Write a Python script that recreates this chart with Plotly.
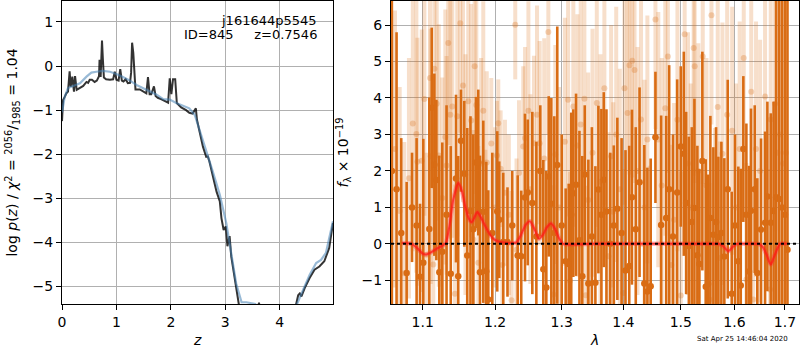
import plotly.graph_objects as go

# ---------------- left panel: log p(z) ----------------
z_black = [0.0, 0.01, 0.02, 0.05, 0.08, 0.11, 0.14, 0.16, 0.19, 0.22, 0.24, 0.27, 0.33, 0.39, 0.45,
           0.48, 0.51, 0.55, 0.60, 0.64, 0.68, 0.69, 0.71, 0.735, 0.75, 0.77, 0.81, 0.88, 0.94, 0.97,
           1.00, 1.04, 1.07, 1.10, 1.13, 1.17, 1.21, 1.25, 1.27, 1.288, 1.31, 1.33, 1.35, 1.43, 1.49,
           1.55, 1.58, 1.61, 1.64, 1.69, 1.72, 1.76, 1.82, 1.89, 1.95, 1.98, 2.01, 2.04, 2.08, 2.11,
           2.19, 2.28, 2.34, 2.40, 2.46, 2.48, 2.53, 2.59, 2.65, 2.68, 2.71, 2.77, 2.84, 2.90, 2.93,
           2.97, 3.01, 3.04, 3.08, 3.11, 3.17, 3.22, 3.26, 3.30, 3.45, 3.58, 3.62, 3.66, 3.80, 4.00,
           4.20, 4.28, 4.30, 4.34, 4.37, 4.40, 4.46, 4.55, 4.64, 4.73, 4.82, 4.91, 4.98]
logp_black = [-1.25, -1.05, -0.77, -0.70, -0.62, -0.58, -0.12, -0.47, -0.24, -0.58, -0.23, -0.54, -0.50, -0.45, -0.36,
              -0.38, -0.31, -0.31, -0.36, -0.33, -0.23, 0.14, -0.25, 0.58, 0.18, -0.26, -0.30, -0.31, -0.30, -0.13,
              -0.31, -0.33, -0.07, -0.33, -0.35, -0.30, -0.39, -0.38, -0.15, 0.53, 0.30, -0.20, -0.53, -0.53, -0.57,
              -0.62, -0.25, -0.64, -0.64, -0.46, -0.68, -0.72, -0.75, -0.79, -0.83, -0.28, -0.64, -0.30, -0.30, -0.84,
              -0.94, -1.00, -1.06, -1.08, -0.96, -1.22, -1.52, -1.83, -2.06, -2.05, -2.17, -2.51, -2.85, -3.07, -3.45,
              -3.72, -3.64, -4.09, -3.86, -4.32, -4.77, -5.15, -5.42, -5.80, -6.60, -5.60, -5.37, -5.70, -6.80, -7.00,
              -6.20, -5.60, -5.42, -5.20, -5.16, -5.23, -5.04, -4.81, -4.62, -4.55, -4.43, -4.13, -3.56]

z_blue = [0.0, 0.01, 0.05, 0.11, 0.20, 0.33, 0.45, 0.54, 0.63, 0.75, 0.88, 1.00, 1.12, 1.25, 1.37,
          1.49, 1.61, 1.74, 1.86, 1.98, 2.10, 2.22, 2.34, 2.44, 2.53, 2.65, 2.77, 2.90, 3.02, 3.11,
          3.20, 3.30, 3.39, 3.55, 3.62, 3.80, 4.00, 4.20, 4.32, 4.43, 4.55, 4.67, 4.76, 4.85, 4.94, 4.98]
logp_blue = [-1.05, -0.96, -0.70, -0.50, -0.45, -0.39, -0.24, -0.15, -0.13, -0.11, -0.13, -0.18, -0.25, -0.33, -0.43,
             -0.50, -0.58, -0.65, -0.75, -0.76, -0.84, -0.90, -0.96, -1.11, -1.45, -1.90, -2.39, -2.92, -3.57, -4.25,
             -4.93, -5.36, -5.36, -5.40, -5.80, -6.50, -6.80, -6.20, -5.40, -5.08, -4.74, -4.47, -4.40, -4.24, -3.79, -3.52]

# ---------------- right panel: spectrum ----------------
dark_lam = [1.0600, 1.0660, 1.0720, 1.0790, 1.0860, 1.0920, 1.0965, 1.1008, 1.1088, 1.1120,
            1.1155, 1.1182, 1.1222, 1.1262, 1.1320, 1.1377, 1.1449, 1.1480, 1.1518, 1.1564,
            1.1605, 1.1650, 1.1690, 1.1728, 1.1760, 1.1784, 1.1831, 1.1873, 1.1902, 1.1960,
            1.2031, 1.2060, 1.2118, 1.2180, 1.2250, 1.2330, 1.2383, 1.2439, 1.2480, 1.2549,
            1.2610, 1.2670, 1.2716, 1.2762, 1.2799, 1.2839, 1.2885, 1.2931, 1.3000, 1.3062,
            1.3110, 1.3150, 1.3183, 1.3226, 1.3280, 1.3326, 1.3365, 1.3423, 1.3480, 1.3537,
            1.3586, 1.3635, 1.3674, 1.3718, 1.3780, 1.3840, 1.3899, 1.3970, 1.4036, 1.4099,
            1.4145, 1.4210, 1.4275, 1.4357, 1.4410, 1.4467, 1.4550, 1.4650, 1.4739, 1.4792,
            1.4860, 1.4935, 1.5000, 1.5055, 1.5097, 1.5146, 1.5200, 1.5248, 1.5302, 1.5339,
            1.5394, 1.5457, 1.5500, 1.5543, 1.5599, 1.5650, 1.5693, 1.5750, 1.5806, 1.5871,
            1.5947, 1.6010, 1.6074, 1.6121, 1.6171, 1.6230, 1.6282, 1.6321, 1.6394, 1.6445,
            1.6519, 1.6599, 1.6645, 1.6713, 1.6770, 1.6820, 1.6881, 1.6940, 1.7000, 1.7052]
dark_flux = [2.00, 1.50, 0.30, -0.80, 1.00, 0.50, -0.90, -0.52, 0.41, 3.73,
             2.17, 1.75, -0.78, -0.22, 0.80, -0.82, 1.79, -0.89, 2.83, 1.92,
             -0.32, 0.90, 0.40, 2.23, 2.23, -0.78, 0.88, -0.75, -1.53, 0.30,
             0.89, 0.66, 0.05, 0.05, 0.50, -0.32, -0.34, 1.27, 1.41, 1.12,
             0.20, 2.00, -0.70, -1.20, 1.85, 1.10, 0.30, 2.16, 0.50, -0.48,
             -0.55, 0.80, 1.39, 1.62, 0.10, -0.89, 1.90, -1.09, 0.20, -1.07,
             1.49, 0.80, 1.76, 0.89, 0.00, 0.50, 0.96, 0.30, -0.73, -0.61,
             1.28, 0.40, 1.69, -1.09, -1.31, -1.16, 2.92, 0.52, 0.71, 1.50,
             0.20, 1.41, 2.67, 2.47, 1.12, -0.06, 0.60, 0.98, -0.31, -0.55,
             2.27, -1.18, -1.10, 0.71, 0.25, 0.60, 0.19, 0.30, -0.35, 1.50,
             -1.37, 0.50, -0.48, -1.14, 2.60, 0.80, -0.76, 0.91, 1.50, -0.80,
             0.39, 0.58, 1.30, 0.58, 0.90, 1.28, 1.23, 1.00, 0.80, -0.16]
dark_err = [12.0, 4.3, 2.6, 2.5, 1.5, 2.4, 2.0, 3.4, 3.6, 2.2,
            2.5, 2.2, 3.2, 3.0, 3.0, 3.5, 2.3, 3.3, 1.4, 2.0,
            3.5, 2.6, 2.6, 1.8, 2.0, 3.2, 2.5, 3.0, 3.0, 2.2,
            2.2, 1.6, 1.9, 1.5, 1.5, 2.2, 1.8, 2.3, 2.0, 2.5,
            2.6, 1.8, 3.0, 3.2, 2.2, 2.9, 3.2, 3.8, 2.5, 2.0,
            2.2, 2.8, 2.3, 2.5, 3.0, 3.3, 1.9, 3.4, 3.0, 3.2,
            2.3, 2.9, 2.4, 2.8, 2.5, 2.2, 2.5, 2.6, 3.3, 3.3,
            2.4, 2.8, 2.6, 3.8, 3.4, 3.5, 1.8, 3.0, 2.8, 3.4,
            2.8, 3.1, 2.2, 2.8, 2.5, 3.0, 2.6, 3.0, 3.0, 2.6,
            3.0, 3.5, 3.0, 2.8, 2.4, 2.6, 2.2, 2.5, 2.7, 3.0,
            2.8, 2.5, 2.6, 3.2, 2.0, 2.5, 2.9, 2.8, 2.3, 2.6,
            2.5, 2.5, 2.6, 3.0, 3.0, 9.0, 9.0, 9.0, 9.0, 9.0]

light_lam = [1.0640, 1.0700, 1.0759, 1.0820, 1.0870, 1.0917, 1.0930, 1.0987, 1.1022, 1.1050,
             1.1097, 1.1106, 1.1141, 1.1155, 1.1187, 1.1215, 1.1262, 1.1303, 1.1320, 1.1343,
             1.1371, 1.1398, 1.1435, 1.1467, 1.1508, 1.1546, 1.1580, 1.1619, 1.1660, 1.1690,
             1.1709, 1.1732, 1.1760, 1.1800, 1.1831, 1.1860, 1.1880, 1.1945, 1.2000, 1.2027,
             1.2046, 1.2080, 1.2105, 1.2143, 1.2200, 1.2240, 1.2294, 1.2313, 1.2350, 1.2413,
             1.2440, 1.2490, 1.2519, 1.2574, 1.2620, 1.2660, 1.2730, 1.2793, 1.2870, 1.2900,
             1.2960, 1.3050, 1.3100, 1.3130, 1.3183, 1.3247, 1.3300, 1.3359, 1.3381, 1.3420,
             1.3490, 1.3560, 1.3620, 1.3684, 1.3751, 1.3795, 1.3830, 1.3880, 1.3940, 1.3999,
             1.4018, 1.4070, 1.4104, 1.4150, 1.4189, 1.4240, 1.4300, 1.4360, 1.4410, 1.4449,
             1.4550, 1.4600, 1.4660, 1.4723, 1.4769, 1.4831, 1.4880, 1.4940, 1.5000, 1.5070,
             1.5130, 1.5180, 1.5234, 1.5253, 1.5320, 1.5401, 1.5470, 1.5525, 1.5563, 1.5631,
             1.5681, 1.5725, 1.5770, 1.5860, 1.5955, 1.6030, 1.6100, 1.6179, 1.6230, 1.6325,
             1.6365, 1.6420, 1.6500, 1.6599, 1.6699, 1.6713, 1.6800, 1.6850, 1.6900, 1.6960,
             1.7020]
light_flux = [2.60, 0.90, -0.81, 1.80, 3.30, 3.01, 2.25, 2.28, 3.97, -0.30,
              4.55, 2.40, -0.57, 4.80, 3.84, 2.42, 1.26, 2.93, 2.15, 5.51,
              3.54, 3.77, -1.37, 3.50, 6.05, 4.34, 1.90, 3.91, 3.38, 0.12,
              4.87, 3.81, -0.52, 2.20, 3.65, -0.72, 2.23, 2.75, 1.00, 2.42,
              3.31, 2.06, -0.58, 1.40, 0.80, -1.55, 6.01, -0.16, 1.94, 2.67,
              2.90, 3.65, 1.50, 2.76, 3.54, 2.76, 2.34, 5.81, -1.39, 2.45,
              1.00, 2.80, 3.95, -1.02, 3.77, 2.70, 3.27, 3.98, -1.41, 1.20,
              2.50, 3.86, 1.70, 4.27, -0.34, 2.40, 0.88, 3.00, 1.50, -1.35,
              4.27, 3.59, 4.90, 5.02, 4.77, 2.00, 3.41, 1.00, 2.86, -1.16,
              6.15, 2.86, 1.60, 3.72, 5.14, -0.58, 0.66, 3.40, -1.42, 5.75,
              2.20, 1.00, 5.37, 4.87, 2.00, 5.14, 1.60, -1.53, 6.27, 0.18,
              3.75, -0.39, 2.47, 3.54, 3.10, 1.00, 2.60, 5.10, -0.98, 4.17,
              -1.53, 2.60, 2.00, 4.04, -1.25, 3.41, 3.84, 2.50, 3.00, 2.20,
              2.50]
light_err = [3.8, 3.4, 3.6, 3.3, 3.5, 3.8, 3.4, 3.6, 3.2, 2.8,
             3.0, 3.5, 3.0, 3.3, 3.2, 3.6, 3.3, 3.5, 3.0, 2.8,
             3.4, 3.6, 3.0, 3.3, 3.0, 3.2, 3.3, 3.0, 3.2, 3.0,
             3.5, 3.4, 3.2, 2.9, 3.0, 3.3, 2.5, 1.8, 2.2, 1.5,
             1.2, 1.6, 2.6, 2.0, 2.2, 3.0, 1.5, 2.5, 2.0, 2.2,
             2.5, 3.0, 2.6, 2.4, 3.0, 2.8, 3.3, 2.8, 3.0, 3.0,
             3.3, 3.4, 3.2, 3.0, 3.3, 3.6, 3.4, 3.0, 3.0, 3.5,
             3.4, 3.4, 3.5, 3.2, 3.4, 3.6, 3.0, 3.5, 3.3, 3.4,
             3.2, 3.5, 3.0, 3.2, 3.1, 3.4, 3.5, 3.5, 3.4, 3.3,
             3.0, 3.5, 3.5, 3.5, 3.2, 3.3, 3.2, 3.6, 3.4, 3.2,
             3.6, 3.4, 3.5, 3.2, 3.5, 3.5, 3.5, 3.2, 3.0, 3.0,
             3.4, 3.2, 3.6, 3.5, 3.4, 3.4, 3.5, 3.1, 3.2, 3.3,
             3.0, 3.5, 3.6, 3.4, 3.3, 3.6, 3.5, 5.0, 6.0, 6.0,
             6.0]

model_lam = [1.0727, 1.0850, 1.0930, 1.1000, 1.1050, 1.1120, 1.1200, 1.1270, 1.1310, 1.1360,
             1.1410, 1.1481, 1.1530, 1.1580, 1.1630, 1.1667, 1.1700, 1.1746, 1.1790, 1.1860,
             1.1926, 1.2000, 1.2070, 1.2150, 1.2250, 1.2313, 1.2380, 1.2450, 1.2514, 1.2570,
             1.2650, 1.2710, 1.2770, 1.2834, 1.2900, 1.2960, 1.3023, 1.3500, 1.4500, 1.5500,
             1.5693, 1.5780, 1.5884, 1.5970, 1.6045, 1.6250, 1.6466, 1.6550, 1.6630, 1.6713,
             1.6780, 1.6901, 1.7040]
model_flux = [0.02, 0.00, -0.12, -0.27, -0.29, -0.22, -0.12, -0.04, 0.02, 0.50,
              1.20, 1.67, 1.45, 1.00, 0.68, 0.59, 0.70, 0.87, 0.75, 0.48,
              0.25, 0.10, 0.05, 0.03, 0.02, 0.04, 0.25, 0.52, 0.62, 0.45,
              0.14, 0.25, 0.45, 0.56, 0.40, 0.15, 0.00, 0.00, 0.00, 0.00,
              0.00, -0.06, -0.20, -0.08, 0.00, 0.00, 0.00, -0.08, -0.30, -0.57,
              -0.35, 0.00, 0.00]

x_ticks_right = [1.1, 1.2, 1.3, 1.4, 1.5, 1.6, 1.7]
x_ticklabels_right = ["1.1", "1.2", "1.3", "1.4", "1.5", "1.6", "1.7"]

ORANGE = "rgb(217,108,20)"
ORANGE_LIGHT = "rgba(217,108,20,0.22)"
ORANGE_LIGHT_DOT = "rgba(217,108,20,0.28)"
FONT = "DejaVu Sans"

fig = go.Figure()

# left panel
fig.add_trace(go.Scatter(x=z_black, y=logp_black, mode="lines",
                         line=dict(color="rgba(0,0,0,0.8)", width=2),
                         xaxis="x", yaxis="y", showlegend=False))
fig.add_trace(go.Scatter(x=z_blue, y=logp_blue, mode="lines",
                         line=dict(color="rgba(70,130,180,0.55)", width=2.2),
                         xaxis="x", yaxis="y", showlegend=False))

# right panel
fig.add_trace(go.Scatter(x=light_lam, y=light_flux, mode="markers",
                         marker=dict(color=ORANGE_LIGHT_DOT, size=6),
                         error_y=dict(type="data", array=light_err, color=ORANGE_LIGHT,
                                      thickness=4, width=0),
                         xaxis="x2", yaxis="y2", showlegend=False))
fig.add_trace(go.Scatter(x=dark_lam, y=dark_flux, mode="markers",
                         marker=dict(color=ORANGE, size=6.5),
                         error_y=dict(type="data", array=dark_err, color=ORANGE,
                                      thickness=2.6, width=0),
                         xaxis="x2", yaxis="y2", showlegend=False))
fig.add_trace(go.Scatter(x=model_lam, y=model_flux, mode="lines",
                         line=dict(color="rgba(255,40,40,0.35)", width=4.5, shape="spline", smoothing=0.6),
                         xaxis="x2", yaxis="y2", showlegend=False))
fig.add_trace(go.Scatter(x=model_lam, y=model_flux, mode="lines",
                         line=dict(color="rgba(255,20,20,0.7)", width=2, shape="spline", smoothing=0.6),
                         xaxis="x2", yaxis="y2", showlegend=False))

fig.add_shape(type="line", xref="x2 domain", yref="y2", x0=0, x1=1, y0=0, y1=0,
              line=dict(color="black", width=2, dash="dot"))

axis_common = dict(showline=True, mirror=True, linecolor="black", linewidth=1,
                   ticks="outside", ticklen=5, tickwidth=1, tickcolor="black",
                   showgrid=True, gridcolor="#b0b0b0", gridwidth=1, zeroline=False,
                   tickfont=dict(family=FONT, size=14, color="black"))

fig.update_layout(
    width=800, height=350,
    margin=dict(l=62, r=1, t=1, b=46),
    paper_bgcolor="white", plot_bgcolor="white",
    xaxis=dict(domain=[0, 0.3677], range=[0, 4.98], tickvals=[0, 1, 2, 3, 4],
               anchor="y", **axis_common),
    yaxis=dict(range=[-5.4, 1.476], tickvals=[-5, -4, -3, -2, -1, 0, 1],
               anchor="x", **axis_common),
    xaxis2=dict(domain=[0.4464, 1], type="log", range=[0.02485, 0.23779],
                tickvals=x_ticks_right, ticktext=x_ticklabels_right,
                anchor="y2", layer="above traces", **axis_common),
    yaxis2=dict(range=[-1.65, 6.66], tickvals=[-1, 0, 1, 2, 3, 4, 5, 6],
                anchor="x2", layer="above traces", **axis_common),
    font=dict(family=FONT, size=14, color="black"),
)

ann = [
    dict(text="log <i>p</i>(<i>z</i>) / <i>χ</i><sup>2</sup> = <sup>2056</sup>/<sub>1985</sub> = 1.04",
         x=-0.0678, y=0.50, textangle=-90, size=14),
    dict(text="<i>f</i><sub>λ</sub> × 10<sup>−19</sup>", x=0.3813, y=0.50, textangle=-90, size=14),
    dict(text="<i>z</i>", x=0.1832, y=-0.119, size=14),
    dict(text="<i>λ</i>", x=0.7232, y=-0.119, size=14),
    dict(text="j161644p5545", x=0.3487, y=0.937, xanchor="right", size=13),
    dict(text="ID=845     z=0.7546", x=0.3487, y=0.888, xanchor="right", size=13),
    dict(text="Sat Apr 25 14:46:04 2020", x=0.924, y=-0.116, size=7),
]
for a in ann:
    a = dict(a)
    size = a.pop("size")
    a.setdefault("xanchor", "center")
    fig.add_annotation(xref="paper", yref="paper", showarrow=False, yanchor="middle",
                       font=dict(family=FONT, size=size, color="black"), **a)

fig.write_html("out.html", config={"displayModeBar": False},
               post_script="document.body.style.margin='0';")
